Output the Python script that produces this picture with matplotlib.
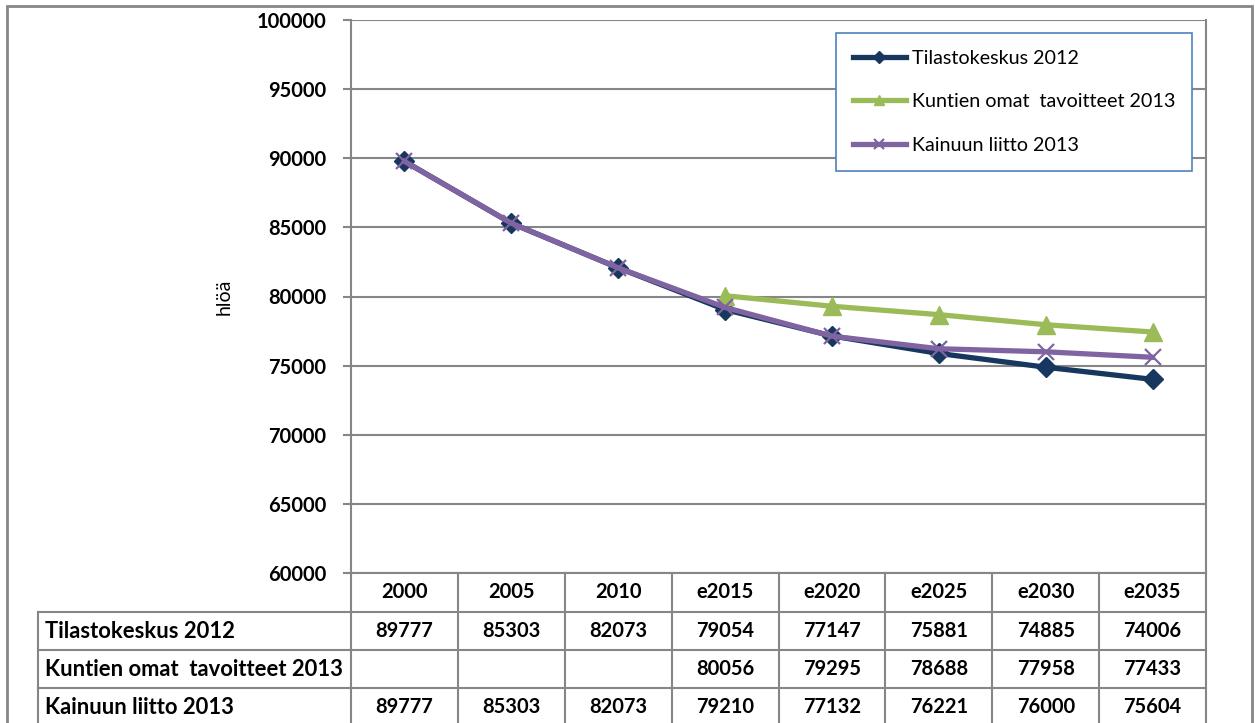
import numpy as np
import matplotlib
matplotlib.use("Agg")
import matplotlib.pyplot as plt
from matplotlib.lines import Line2D
from matplotlib.patches import Rectangle

plt.rcParams['font.family'] = ['Lato', 'DejaVu Sans']

# data
years = ['2000', '2005', '2010', 'e2015', 'e2020', 'e2025', 'e2030', 'e2035']
tilasto = [89777, 85303, 82073, 79054, 77147, 75881, 74885, 74006]
kunnat = [None, None, None, 80056, 79295, 78688, 77958, 77433]
kainuu = [89777, 85303, 82073, 79210, 77132, 76221, 76000, 75604]
names = ['Tilastokeskus 2012', 'Kuntien omat  tavoitteet 2013', 'Kainuun liitto 2013']
colors = ['#17375E', '#9BBB59', '#8064A2']

W, H = 1255, 723
grid_c = '#868686'

def fx(px):
    return px / W

def fy(py):
    return 1 - py / H

fig = plt.figure(figsize=(W / 100, H / 100), dpi=100)
fig.patches.append(Rectangle((fx(7), fy(760)), fx(1252) - fx(7), fy(6) - fy(760),
                             transform=fig.transFigure, fill=False, ec=grid_c, lw=2))

ax = fig.add_axes([fx(351), fy(573), fx(1206) - fx(351), fy(20) - fy(573)])
x = np.arange(len(years))

k_x = [i for i, v in enumerate(kunnat) if v is not None]
k_y = [v for v in kunnat if v is not None]

ax.plot(x, tilasto, color=colors[0], lw=3.8, marker='D', ms=10, label=names[0], zorder=3)
ax.plot(k_x, k_y, color=colors[1], lw=3.8, marker='^', ms=13, label=names[1], zorder=4)
ax.plot(x, kainuu, color=colors[2], lw=3.8, marker='x', ms=11, mew=1.6, label=names[2], zorder=5)

ax.set_xlim(-0.5, len(years) - 0.5)
ax.set_ylim(60000, 100000)
ax.set_yticks(np.arange(60000, 100001, 5000))
ax.yaxis.grid(True, color=grid_c, lw=1.5)
ax.set_axisbelow(True)
ax.set_xticks([])
ax.tick_params(axis='y', length=6, width=1.5, color=grid_c, labelsize=14.5, pad=12)
for lab in ax.get_yticklabels():
    lab.set_fontweight('bold')
for s in ['top', 'bottom']:
    ax.spines[s].set_visible(False)
for s in ['left', 'right']:
    ax.spines[s].set_color(grid_c)
    ax.spines[s].set_linewidth(1.5)
ax.set_ylabel('hlöä', fontsize=14, labelpad=17)

leg = ax.legend(loc='upper left', bbox_to_anchor=(fx(836), fy(33)), bbox_transform=fig.transFigure,
                fancybox=False, edgecolor='#4F81BD', framealpha=1, fontsize=14.2,
                handlelength=2.7, labelspacing=1.35, borderpad=0.85, handletextpad=0.3,
                borderaxespad=0, markerscale=0.6)
leg.get_frame().set_linewidth(1.2)

# data table under the chart
fig.canvas.draw()
bounds = [ax.transData.transform((i - 0.5, 0))[0] for i in range(len(years) + 1)]
rows = [573, 612, 650, 688, 726]
lc = dict(color=grid_c, lw=1.5, transform=fig.transFigure)
left_x = 38
for b in bounds:
    fig.lines.append(Line2D([fx(b), fx(b)], [fy(573), fy(730)], **lc))
fig.lines.append(Line2D([fx(left_x), fx(left_x)], [fy(612), fy(730)], **lc))
fig.lines.append(Line2D([fx(bounds[0]), fx(bounds[-1])], [fy(573), fy(573)], **lc))
for r in rows[1:4]:
    fig.lines.append(Line2D([fx(left_x), fx(bounds[-1])], [fy(r), fy(r)], **lc))

tk = dict(fontsize=14.5, fontweight='bold', va='center', transform=fig.transFigure)
for i, yr in enumerate(years):
    cx = (bounds[i] + bounds[i + 1]) / 2
    fig.text(fx(cx), fy((rows[0] + rows[1]) / 2), yr, ha='center', **tk)
for r, (name, vals) in enumerate(zip(names, [tilasto, kunnat, kainuu])):
    cy = (rows[r + 1] + rows[r + 2]) / 2
    fig.text(fx(45), fy(cy), name, ha='left', fontsize=15.8, fontweight='bold',
             va='center', transform=fig.transFigure)
    for i, v in enumerate(vals):
        if v is not None:
            cx = (bounds[i] + bounds[i + 1]) / 2
            fig.text(fx(cx), fy(cy), str(v), ha='center', **tk)

fig.savefig('out.png', dpi=100)
